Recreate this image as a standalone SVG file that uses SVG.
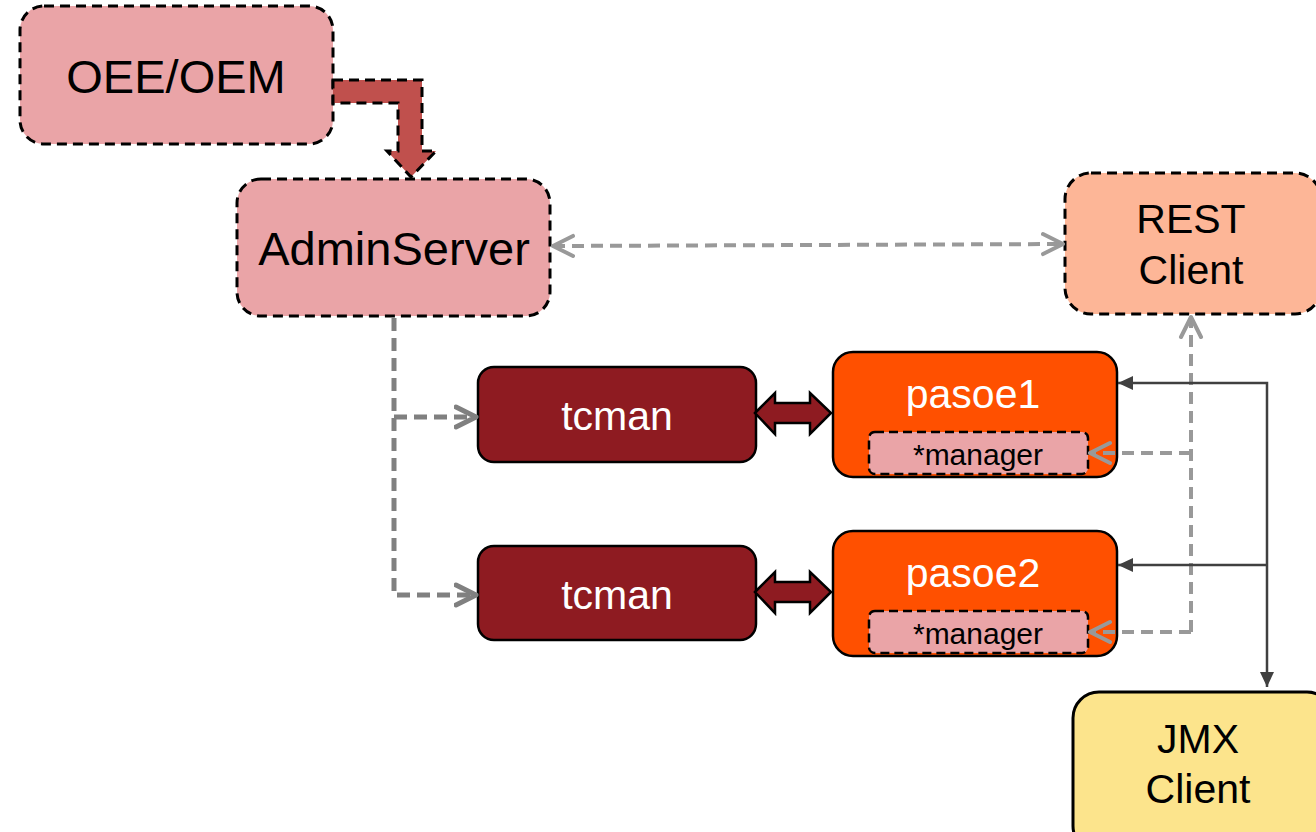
<svg xmlns="http://www.w3.org/2000/svg" width="1316" height="832" viewBox="0 0 1316 832">
<style>
text{font-family:"Liberation Sans",Arial,sans-serif;text-anchor:middle}
.pink{fill:#EAA4A7;stroke:#000;stroke-width:3;stroke-dasharray:10 6}
.rest{fill:#FDB697;stroke:#000;stroke-width:3;stroke-dasharray:10 6}
.jmx{fill:#FCE48C;stroke:#000;stroke-width:3}
.tc{fill:#8E1B21;stroke:#000;stroke-width:2.5}
.pas{fill:#FF5000;stroke:#000;stroke-width:2.5}
.mgr{fill:#EAA4A7;stroke:#000;stroke-width:2.5;stroke-dasharray:9 5}
.big{font-size:47px;fill:#000}
.mid{font-size:41px;fill:#000}
.wt{font-size:41px;fill:#fff}
.sm{font-size:30px;fill:#000}
.gd{fill:none;stroke:#999;stroke-width:4;stroke-dasharray:12 7}
.gl{fill:none;stroke:#808080;stroke-width:5;stroke-dasharray:13 7}
.dk{fill:none;stroke:#404040;stroke-width:2.5}
</style>
<defs>
<marker id="open" markerUnits="userSpaceOnUse" markerWidth="30" markerHeight="30" refX="22" refY="12" orient="auto-start-reverse" viewBox="0 0 30 24">
<path d="M2,2 L22,12 L2,22" fill="none" stroke="#999" stroke-width="4" stroke-linecap="round" stroke-linejoin="round"/>
</marker>
<marker id="open2" markerUnits="userSpaceOnUse" markerWidth="30" markerHeight="30" refX="22" refY="12" orient="auto-start-reverse" viewBox="0 0 30 24">
<path d="M2,2 L22,12 L2,22" fill="none" stroke="#808080" stroke-width="5" stroke-linecap="round" stroke-linejoin="round"/>
</marker>
<marker id="tri" markerUnits="userSpaceOnUse" markerWidth="16" markerHeight="16" refX="15" refY="8" orient="auto-start-reverse" viewBox="0 0 16 16">
<path d="M0,1 L15,8 L0,15 Z" fill="#404040"/>
</marker>
</defs>

<g id="oee">
<rect class="pink" x="20" y="6" width="313" height="138" rx="24"/>
<text class="big" x="176" y="93">OEE/OEM</text>
</g>
<g id="adminserver">
<rect class="pink" x="237" y="179" width="313" height="137" rx="24"/>
<text class="big" x="394" y="265">AdminServer</text>
</g>
<g id="rest">
<rect class="rest" x="1065" y="173" width="256" height="141" rx="26"/>
<text class="mid" x="1191" y="233">REST</text>
<text class="mid" x="1191" y="284">Client</text>
</g>
<g id="tcman1">
<rect class="tc" x="478" y="367" width="278" height="95" rx="16"/>
<text class="wt" x="617" y="430">tcman</text>
</g>
<g id="tcman2">
<rect class="tc" x="478" y="546" width="278" height="94" rx="16"/>
<text class="wt" x="617" y="609">tcman</text>
</g>
<g id="pasoe1">
<rect class="pas" x="833" y="352" width="284" height="125" rx="20"/>
<text class="wt" x="973" y="408">pasoe1</text>
<g id="manager1">
<rect class="mgr" x="869" y="432" width="219" height="42" rx="6"/>
<text class="sm" x="978" y="465">*manager</text>
</g>
</g>
<g id="pasoe2">
<rect class="pas" x="833" y="531" width="284" height="125" rx="20"/>
<text class="wt" x="973" y="587">pasoe2</text>
<g id="manager2">
<rect class="mgr" x="869" y="611" width="219" height="42" rx="6"/>
<text class="sm" x="978" y="644">*manager</text>
</g>
</g>
<g id="jmx">
<rect class="jmx" x="1073" y="692" width="260" height="160" rx="26"/>
<text class="mid" x="1198" y="753">JMX</text>
<text class="mid" x="1198" y="803">Client</text>
</g>

<g id="connectors">
<polygon points="333,80 422,80 422,151 436,151 411,177 387,151 398,151 398,103 333,103" fill="#C0504D" stroke="#000" stroke-width="3" stroke-dasharray="10 6"/>
<line class="gd" x1="553" y1="246" x2="1063" y2="244" marker-start="url(#open)" marker-end="url(#open)"/>
<path class="gl" d="M394,318 V595 H476" marker-end="url(#open2)"/>
<path class="gl" d="M394,417 H476" marker-end="url(#open2)"/>
<path class="gd" d="M1191,632 V317" marker-end="url(#open)"/>
<path class="gd" d="M1191,453 H1090" marker-end="url(#open)"/>
<path class="gd" d="M1191,632 H1090" marker-end="url(#open)"/>
<path class="dk" d="M1118,383 H1267 V687" marker-start="url(#tri)" marker-end="url(#tri)"/>
<path class="dk" d="M1267,565 H1118" marker-end="url(#tri)"/>
<polygon points="755,413 775,393 775,403 810,403 810,393 831,413 810,434 810,423 775,423 775,434" fill="#8E1B21" stroke="#000" stroke-width="2.5"/>
<polygon points="755,592 775,572 775,582 810,582 810,572 831,592 810,613 810,602 775,602 775,613" fill="#8E1B21" stroke="#000" stroke-width="2.5"/>
</g>
</svg>
